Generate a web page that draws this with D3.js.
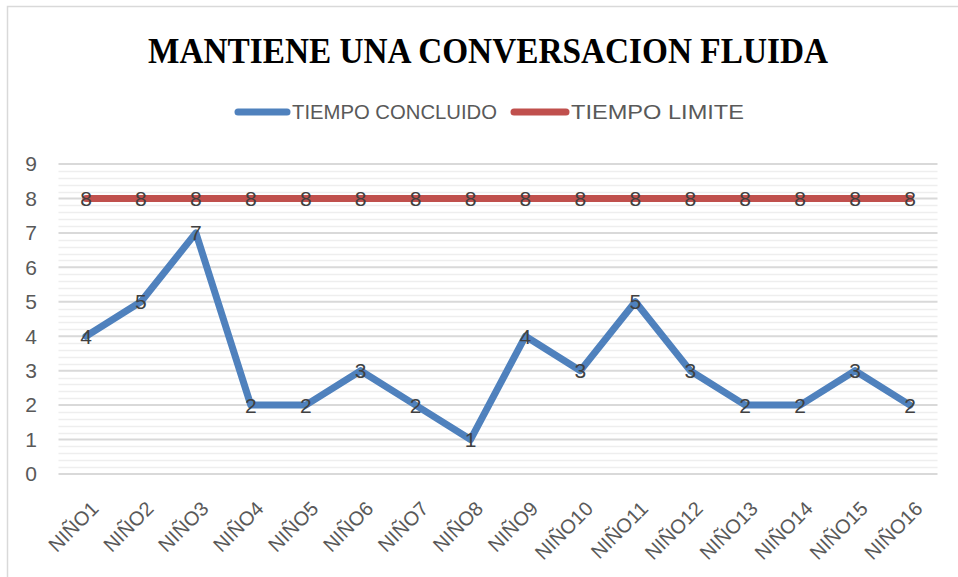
<!DOCTYPE html>
<html>
<head>
<meta charset="utf-8">
<script src="https://cdn.jsdelivr.net/npm/d3@7"></script>
<style>
  body { margin: 0; background: #fff; }
  svg text { font-family: "Liberation Sans", "Open Sans", sans-serif; fill: #595959; }
</style>
</head>
<body>
<svg id="chart" width="958" height="577"></svg>
<script>
// chart data
const ninos = ["NIÑO1","NIÑO2","NIÑO3","NIÑO4","NIÑO5","NIÑO6","NIÑO7","NIÑO8",
               "NIÑO9","NIÑO10","NIÑO11","NIÑO12","NIÑO13","NIÑO14","NIÑO15","NIÑO16"];
const tiempoConcluido = [4, 5, 7, 2, 2, 3, 2, 1, 4, 3, 5, 3, 2, 2, 3, 2];
const tiempoLimite = [8, 8, 8, 8, 8, 8, 8, 8, 8, 8, 8, 8, 8, 8, 8, 8];
const yTicks = [0, 1, 2, 3, 4, 5, 6, 7, 8, 9];

const series = [
    {name: "TIEMPO CONCLUIDO", values: tiempoConcluido, color: "#4f81bd"},
    {name: "TIEMPO LIMITE", values: tiempoLimite, color: "#c0504d"}
];

const svg = d3.select("#chart");
const margin = {top: 164, right: 20, bottom: 103, left: 58.5};

// outer border of the chart area
svg.append("rect")
    .attr("x", 7.5).attr("y", 6.5)
    .attr("width", 970).attr("height", 600)
    .attr("fill", "none").attr("stroke", "#d9d9d9").attr("stroke-width", 1.5);

const x = d3.scalePoint()
    .domain(ninos)
    .range([86, 910]);

const y = d3.scaleLinear()
    .domain([0, 9])
    .range([474, margin.top]);

// minor gridlines every 0.2
const minor = d3.range(0, 9.01, 0.2).filter(v => Math.abs(v - Math.round(v)) > 0.01);
svg.append("g").selectAll("line").data(minor).join("line")
    .attr("x1", margin.left).attr("x2", 937.5)
    .attr("y1", d => Math.round(y(d)) + 0.5).attr("y2", d => Math.round(y(d)) + 0.5)
    .attr("stroke", "#eeeeee").attr("stroke-width", 1.5);

// major gridlines
svg.append("g").selectAll("line").data(yTicks).join("line")
    .attr("x1", margin.left).attr("x2", 937.5)
    .attr("y1", d => y(d)).attr("y2", d => y(d))
    .attr("stroke", "#d9d9d9").attr("stroke-width", 2);

// y axis labels
svg.append("g").selectAll("text").data(yTicks).join("text")
    .attr("x", 37).attr("y", d => y(d))
    .attr("dy", "0.35em")
    .attr("text-anchor", "end")
    .style("font-size", "21px")
    .text(d => d);

// x axis labels rotated
svg.append("g").selectAll("text").data(ninos).join("text")
    .attr("transform", d => `translate(${x(d) + 9},${505}) rotate(-45)`)
    .attr("text-anchor", "end")
    .attr("dy", "0.35em")
    .style("font-size", "20px")
    .text(d => d);

// lines
const line = d3.line()
    .x((d, i) => x(ninos[i]))
    .y(d => y(d));

series.slice().reverse().forEach(s => {
    svg.append("path")
        .datum(s.values)
        .attr("d", line)
        .attr("fill", "none")
        .attr("stroke", s.color)
        .attr("stroke-width", 7)
        .attr("stroke-linejoin", "round")
        .attr("stroke-linecap", "round");
});

// data labels
series.forEach(s => {
    svg.append("g").selectAll("text").data(s.values).join("text")
        .attr("x", (d, i) => x(ninos[i]))
        .attr("y", d => y(d))
        .attr("dy", "0.36em")
        .attr("text-anchor", "middle")
        .style("font-size", "21px")
        .style("fill", "#404040")
        .text(d => d);
});

// title
svg.append("text")
    .attr("x", 488).attr("y", 63)
    .attr("text-anchor", "middle")
    .attr("textLength", 680)
    .attr("lengthAdjust", "spacingAndGlyphs")
    .style("font-family", "'Liberation Serif', 'DejaVu Serif', serif")
    .style("font-weight", "bold")
    .style("font-size", "36px")
    .style("fill", "#000")
    .text("MANTIENE UNA CONVERSACION FLUIDA");

// legend
const legendItems = [
    {s: series[0], x1: 238, x2: 287, tx: 292, tw: 205},
    {s: series[1], x1: 514, x2: 566, tx: 571, tw: 173}
];
legendItems.forEach(d => {
    svg.append("line")
        .attr("x1", d.x1).attr("x2", d.x2)
        .attr("y1", 112).attr("y2", 112)
        .attr("stroke", d.s.color).attr("stroke-width", 7)
        .attr("stroke-linecap", "round");
    svg.append("text")
        .attr("x", d.tx).attr("y", 112)
        .attr("dy", "0.35em")
        .attr("textLength", d.tw)
        .attr("lengthAdjust", "spacingAndGlyphs")
        .style("font-size", "21px")
        .text(d.s.name);
});
</script>
</body>
</html>
